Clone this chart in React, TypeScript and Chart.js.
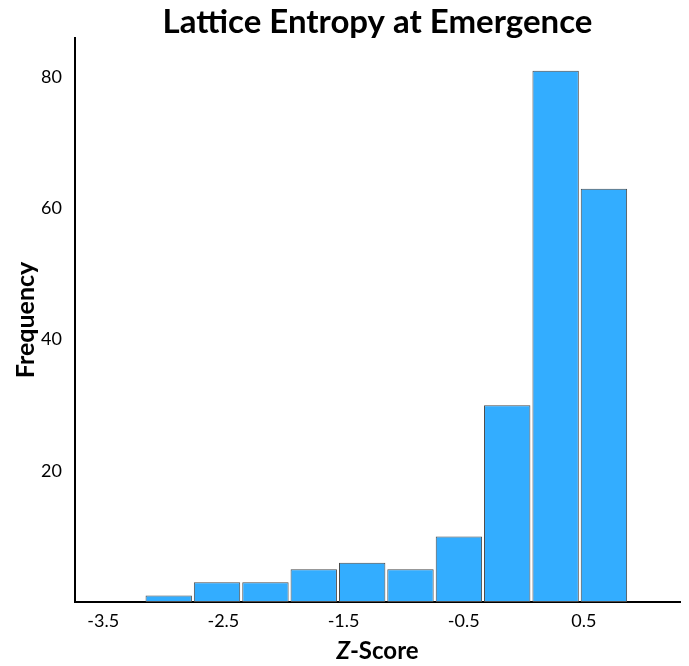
import React, { useEffect, useRef } from 'react';
import { Chart, registerables } from 'chart.js';

Chart.register(...registerables);

const binCenters = [-2.955, -2.553, -2.15, -1.748, -1.345, -0.943, -0.54, -0.138, 0.265, 0.667];
const frequencies = [1, 3, 3, 5, 6, 5, 10, 30, 81, 63];
const xTickValues = [-3.5, -2.5, -1.5, -0.5, 0.5];
const yTickValues = [20, 40, 60, 80];
const chartTitle = 'Lattice Entropy at Emergence';
const yAxisTitle = 'Frequency';
const xAxisTitleItalic = 'Z';
const xAxisTitleRest = '-Score';

const FONT = 'Lato';

const xTitlePlugin = {
  id: 'xTitleMixed',
  afterDraw(chart: any) {
    const { ctx, chartArea } = chart;
    ctx.save();
    const fItalic = `italic bold 24px ${FONT}`;
    const fBold = `bold 24px ${FONT}`;
    ctx.font = fItalic;
    const w1 = ctx.measureText(xAxisTitleItalic).width;
    ctx.font = fBold;
    const w2 = ctx.measureText(xAxisTitleRest).width;
    const cx = (chartArea.left + chartArea.right) / 2;
    const x0 = cx - (w1 + w2) / 2;
    const y = chartArea.bottom + 49;
    ctx.textBaseline = 'middle';
    ctx.textAlign = 'left';
    ctx.fillStyle = '#000';
    ctx.font = fItalic;
    ctx.fillText(xAxisTitleItalic, x0, y);
    ctx.font = fBold;
    ctx.fillText(xAxisTitleRest, x0 + w1, y);
    ctx.restore();
  },
};

export default function App() {
  const ref = useRef<HTMLCanvasElement | null>(null);
  useEffect(() => {
    if (!ref.current) return;
    const chart = new Chart(ref.current, {
      type: 'bar',
      data: {
        datasets: [
          {
            label: 'Frequency',
            data: binCenters.map((x, i) => ({ x, y: frequencies[i] })),
            backgroundColor: '#33adff',
            borderColor: '#4a4a4a',
            borderWidth: 1,
            borderSkipped: false,
            barPercentage: 1,
            categoryPercentage: 0.96,
          },
        ],
      },
      options: {
        animation: false,
        responsive: false,
        maintainAspectRatio: false,
        layout: { padding: { top: 0, left: 0, right: 9, bottom: 0 } },
        plugins: {
          legend: { display: false },
          tooltip: { enabled: false },
          title: {
            display: true,
            text: chartTitle,
            fullSize: false,
            color: '#000',
            font: { family: FONT, size: 33, weight: 'bold', lineHeight: '32px' },
            padding: { top: 6, bottom: 0 },
          },
        },
        scales: {
          x: {
            type: 'linear',
            offset: false,
            min: -3.735,
            max: 1.3,
            grid: { display: false, drawTicks: false, tickLength: 0, offset: false },
            border: { display: true, color: '#000', width: 2 },
            afterBuildTicks: (scale: any) => {
              scale.ticks = xTickValues.map((v) => ({ value: v }));
            },
            afterFit: (scale: any) => {
              scale.height = 64;
            },
            ticks: {
              autoSkip: false,
              maxRotation: 0,
              padding: 8,
              color: '#000',
              font: { family: FONT, size: 18 },
              callback: (v: any) => String(v),
            },
          },
          y: {
            type: 'linear',
            min: 0,
            max: 86,
            grid: { display: false, drawTicks: false, tickLength: 0 },
            border: { display: true, color: '#000', width: 2 },
            afterBuildTicks: (scale: any) => {
              scale.ticks = yTickValues.map((v) => ({ value: v }));
            },
            afterFit: (scale: any) => {
              scale.width = 75;
            },
            title: {
              display: true,
              text: yAxisTitle,
              color: '#000',
              font: { family: FONT, size: 25, weight: 'bold', lineHeight: 1.2 },
              padding: { top: 11, bottom: 0 },
            },
            ticks: {
              padding: 13,
              color: '#000',
              font: { family: FONT, size: 18 },
            },
          },
        },
      },
      plugins: [xTitlePlugin],
    } as any);
    return () => chart.destroy();
  }, []);
  return (
    <div style={{ position: 'fixed', left: 0, top: 0, width: 689, height: 666 }}>
      <canvas ref={ref} width={689} height={666} style={{ width: 689, height: 666 }} />
    </div>
  );
}
